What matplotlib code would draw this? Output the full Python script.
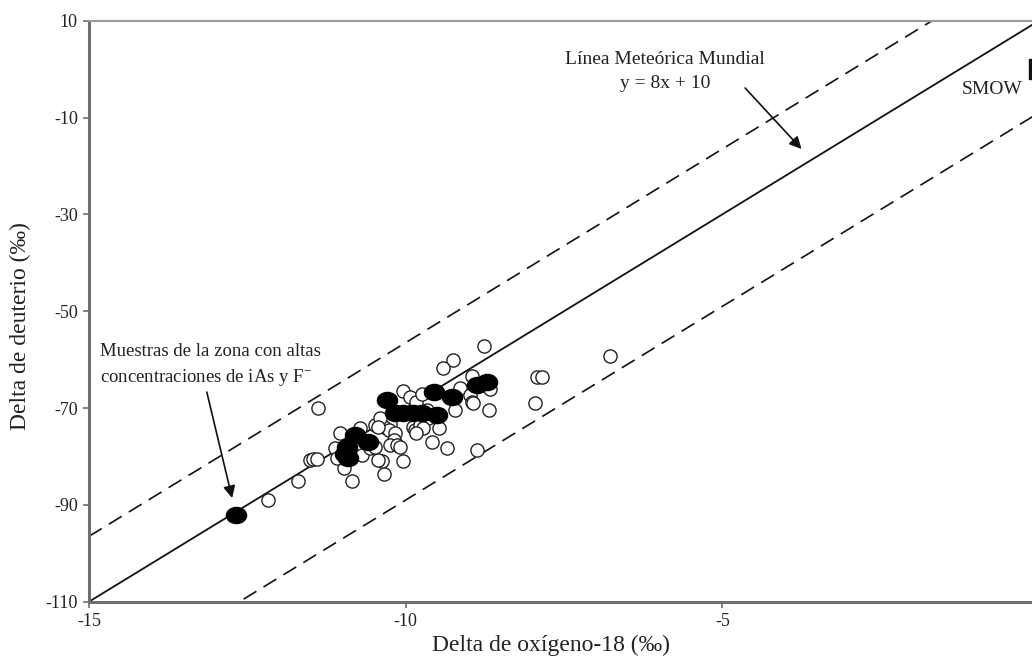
import numpy as np
import matplotlib
matplotlib.use("Agg")
import matplotlib.pyplot as plt
from matplotlib.path import Path
from matplotlib.transforms import Affine2D

plt.rcParams['font.family'] = ['Liberation Serif', 'DejaVu Serif']
plt.rcParams['mathtext.fontset'] = 'custom'
plt.rcParams['mathtext.rm'] = 'Liberation Serif'
plt.rcParams['mathtext.it'] = 'Liberation Serif:italic'

# muestras generales (circulos abiertos)
o18_open = [-8.76, -9.25, -9.41, -8.96, -7.93, -7.85, -7.96, -8.69, -6.77, -11.39,
            -11.51, -11.46, -11.40, -11.70, -12.17, -10.84, -10.34, -10.97, -10.38, -10.04,
            -9.59, -9.35, -8.87, -10.04, -9.93, -9.83, -9.75, -9.14, -8.98, -8.96,
            -8.93, -8.67, -9.22, -9.67, -9.64, -9.48, -10.30, -10.25, -10.35, -10.27,
            -10.17, -10.19, -10.25, -10.14, -10.09, -9.88, -9.85, -9.77, -9.72, -9.83,
            -11.04, -11.12, -11.09, -10.69, -10.72, -10.48, -10.43, -10.56, -10.48, -10.41,
            -10.43]
d2h_open = [-57.1, -60.1, -61.8, -63.4, -63.5, -63.5, -69.0, -70.4, -59.3, -70.0,
            -80.7, -80.6, -80.5, -85.0, -89.0, -85.0, -83.7, -82.4, -80.9, -80.9,
            -77.0, -78.3, -78.7, -66.5, -67.8, -68.7, -67.1, -65.9, -67.3, -68.7,
            -68.9, -66.1, -70.4, -70.4, -72.0, -74.2, -72.5, -73.2, -73.9, -74.5,
            -75.2, -76.6, -77.6, -77.6, -78.0, -73.9, -74.5, -73.5, -74.2, -75.2,
            -75.2, -78.3, -80.4, -79.7, -74.2, -73.5, -80.7, -78.3, -78.0, -72.1,
            -73.9]

# muestras de la zona con altas concentraciones (rellenos)
o18_alta = [-12.68, -10.80, -10.59, -10.93, -10.96, -10.91, -10.29, -10.17, -10.04, -9.88,
            -9.75, -9.56, -9.27, -9.51, -8.88, -8.72]
d2h_alta = [-92.1, -75.6, -77.1, -78.0, -79.4, -80.4, -68.4, -71.1, -71.1, -71.1,
            -71.1, -66.6, -67.7, -71.4, -65.2, -64.6]

# linea meteorica mundial y limites
pendiente = 8
ordenada_lmm = 10
ordenada_sup = 23.5
ordenada_inf = -9
smow = (0, 0)

x_ticks = [-15, -10, -5]
y_ticks = [-110, -90, -70, -50, -30, -10, 10]

fig = plt.figure(figsize=(10.32, 6.59), dpi=100)
ax = fig.add_axes([89 / 1032, 57.3 / 659, 950 / 1032, 581 / 659])
ax.set_xlim(-15, 0)
ax.set_ylim(-110, 10)

xs = np.array([-15.0, 0.0])
ax.plot(xs, pendiente * xs + ordenada_lmm, color='#111111', lw=1.3, zorder=2)
for c in (ordenada_sup, ordenada_inf):
    ax.plot(xs, pendiente * xs + c, color='#111111', lw=1.2, dashes=(9, 5), zorder=2)

ellipse = Path.unit_circle().transformed(Affine2D().scale(1.25, 1.0))
ax.plot(o18_open, d2h_open, 'o', ms=9.5, mfc='white', mec='#222222', mew=1.0,
        linestyle='none', zorder=3)
ax.plot(o18_alta, d2h_alta, marker=ellipse, ms=14.5, mfc='black', mec='black',
        linestyle='none', zorder=4)
ax.plot([smow[0]], [smow[1]], 's', ms=15, color='#111111', clip_on=False, zorder=5)

txt = '#222222'
ax.text(-0.74, -4.3, 'SMOW', fontsize=14, color=txt, ha='center', va='center')
ax.text(-5.9, 2.0, 'Línea Meteórica Mundial', fontsize=14, color=txt,
        ha='center', va='center')
ax.text(-5.9, -3.0, 'y = 8x + 10', fontsize=14, color=txt, ha='center', va='center')
ax.annotate('', xy=(-3.75, -16.5), xytext=(-4.64, -3.9),
            arrowprops=dict(arrowstyle='-|>', color='#111111', lw=1.2,
                            mutation_scale=18, shrinkA=0, shrinkB=0))

ax.text(-14.83, -58.4, 'Muestras de la zona con altas', fontsize=13.5, color=txt,
        ha='left', va='center')
ax.text(-14.83, -63.6, 'concentraciones de iAs y F$^{-}$', fontsize=13.5, color=txt,
        ha='left', va='center')
ax.annotate('', xy=(-12.74, -88.6), xytext=(-13.14, -66.7),
            arrowprops=dict(arrowstyle='-|>', color='#111111', lw=1.2,
                            mutation_scale=18, shrinkA=0, shrinkB=0))

for side in ('left', 'bottom', 'top', 'right'):
    ax.spines[side].set_color('#6e6e6e')
ax.spines['left'].set_linewidth(2.2)
ax.spines['bottom'].set_linewidth(2.2)
ax.spines['top'].set_linewidth(1.5)
ax.spines['top'].set_color('#9a9a9a')

ax.set_xticks(x_ticks)
ax.set_yticks(y_ticks)
ax.set_xticklabels([str(v) for v in x_ticks])
ax.set_yticklabels([str(v) for v in y_ticks])
ax.tick_params(direction='out', length=4, width=1.2, color='#6e6e6e',
               labelsize=13, labelcolor=txt, pad=4)

ax.set_xlabel('Delta de oxígeno-18 (‰)', fontsize=17, color=txt)
ax.set_ylabel('Delta de deuterio (‰)', fontsize=17, color=txt)
ax.xaxis.set_label_coords(0.486, -0.075)
ax.xaxis.label.set_va('center')
ax.yaxis.set_label_coords(-0.072, 0.475)
ax.yaxis.label.set_va('center')

fig.savefig('out.png', dpi=100)
